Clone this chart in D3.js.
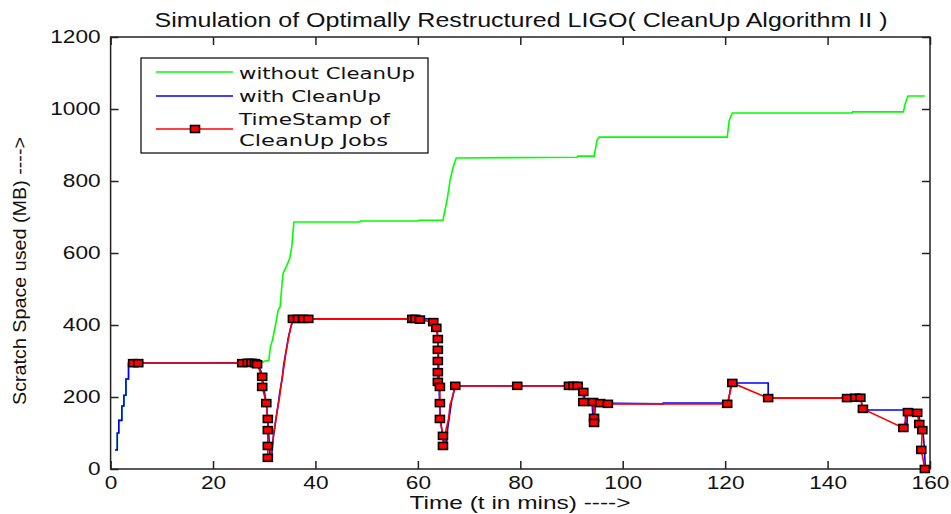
<!DOCTYPE html>
<html>
<head>
<meta charset="utf-8">
<script src="https://cdn.jsdelivr.net/npm/d3@7"></script>
<style>
  html, body { margin: 0; padding: 0; background: #fff; }
  svg { display: block; }
</style>
</head>
<body>
<svg id="chart" width="951" height="514"></svg>
<script>
// ---------- DATA ----------
const title = "Simulation of Optimally Restructured LIGO( CleanUp Algorithm II )";
const xLabel = "Time (t in mins) ---->";
const yLabel = "Scratch Space used (MB) ---->";
const xTicks = [0, 20, 40, 60, 80, 100, 120, 140, 160];
const yTicks = [0, 200, 400, 600, 800, 1000, 1200];
const legendLabels = [["without CleanUp"], ["with CleanUp"], ["TimeStamp of", "CleanUp Jobs"]];

// without CleanUp (green) [time, MB]
const greenPts = [
  [0.9,53],[1.3,53],[1.3,100],[1.6,100],[1.6,135],[2.2,135],[2.2,175],[2.6,175],[2.6,205],[3.0,205],[3.0,250],[3.5,250],[3.5,294],
  [29.5,296],[30.2,300],[30.9,302],[31.2,339],[31.6,358],[32.2,400],[32.7,440],[33.1,450],[33.5,520],[33.7,544],[34.4,565],[35.0,586],
  [35.4,620],[35.6,656],[35.8,686],[48.7,686],[48.8,689],[60.1,689],[60.2,691],[64.9,691],[65.3,720],[65.7,747],[66.3,803],[66.9,839],
  [67.5,864],[91.1,866],[91.2,869],[94.4,869],[95.0,914],[95.4,922],[120.4,922],[120.8,969],[121.4,989],[144.8,989],[144.9,992],
  [154.8,992],[155.2,1017],[155.7,1036],[159.0,1036]
];
// with CleanUp (blue)
const bluePts = [
  [0.9,53],[1.3,53],[1.3,100],[1.6,100],[1.6,135],[2.2,135],[2.2,175],[2.6,175],[2.6,205],[3.0,205],[3.0,250],[3.5,250],[3.5,294],
  [27.5,294],[28.4,292],[28.9,285],[29.4,270],[29.6,256],[29.9,228],[30.2,200],[30.5,170],[30.7,130],[30.9,95],[31.0,60],[31.1,40],
  [31.5,40],[31.6,70],[31.9,100],[32.3,140],[32.7,175],[33.0,210],[33.5,250],[33.8,290],[34.3,330],[34.7,365],[35.2,395],[35.7,417],
  [62.5,417],[63.3,405],[63.8,385],[64.0,330],[64.1,260],[64.2,200],[64.4,140],[64.8,95],[65.2,70],[65.6,70],[65.8,110],[66.2,150],
  [66.6,190],[67.0,215],[67.6,231],[91.4,231],[92.0,222],[92.5,210],[92.6,186],[94.0,186],[94.2,140],[94.5,150],[94.7,183],
  [107.9,181],[107.9,183],[120.6,183],[121.2,239],[128.4,239],[128.4,197],[146.6,197],[146.7,164],[155.2,164],[155.2,114],
  [155.5,114],[155.6,160],[157.7,160],[158.1,125],[158.6,108],[158.9,60],[159.1,0]
];
// TimeStamp of CleanUp Jobs (red line)
const redPts = [
  [4.4,294],[5.4,294],[25.7,294],[26.8,295],[27.5,295],[28.2,294],[28.6,291],[29.6,256],[29.6,228],[30.4,183],[30.7,139],[30.7,108],
  [30.7,64],[30.7,31],[31.2,31],[31.4,60],[31.6,60],[31.8,95],[32.2,130],[32.6,170],[33.0,200],[33.3,235],[33.8,280],[34.2,320],
  [34.7,360],[35.2,395],[35.6,417],[36.6,417],[37.6,417],[38.6,417],[58.9,417],[60.4,415],[63.0,408],[63.6,392],[63.9,361],[63.9,331],
  [63.9,300],[63.9,269],[63.9,242],[64.3,228],[64.3,183],[64.3,139],[64.9,92],[64.9,64],[65.3,75],[65.5,110],[66.0,140],[66.3,180],
  [66.8,200],[67.3,231],[79.4,231],[89.5,231],[90.4,231],[91.2,231],[92.3,214],[92.3,186],[94.2,186],[94.4,142],[94.4,128],[94.6,183],
  [95.6,183],[97.1,181],[120.4,181],[121.4,239],[128.4,197],[143.8,197],[145.4,198],[146.4,198],[146.9,167],[154.8,114],[155.7,158],
  [157.5,156],[157.9,125],[158.5,108],[158.3,53],[159.0,0]
];
// marker positions on the red series
const markerPts = [
  [4.4,294],[5.4,294],[25.7,294],[26.8,295],[27.5,295],[28.2,294],[28.6,291],[29.6,256],[29.6,228],[30.4,183],[30.7,139],[30.7,108],
  [30.7,64],[30.7,31],[35.6,417],[36.6,417],[37.6,417],[38.6,417],[58.9,417],[59.5,417],[60.4,415],[63.0,408],[63.6,392],[63.9,361],
  [63.9,331],[63.9,300],[63.9,269],[63.9,242],[64.3,228],[64.3,183],[64.3,139],[64.9,92],[64.9,64],[67.3,231],[79.4,231],[89.5,231],
  [90.4,231],[91.2,231],[92.3,214],[92.3,186],[94.2,186],[95.6,183],[97.1,181],[94.4,142],[94.4,128],[120.4,181],[121.4,239],
  [128.4,197],[143.8,197],[145.4,198],[146.4,198],[146.9,167],[154.8,114],[155.7,158],[157.5,156],[157.9,125],[158.5,108],[158.3,53],[159.0,0]
];

// ---------- CHART ----------
const svg = d3.select("#chart");
const x = d3.scaleLinear().domain([0, 160]).range([110.6, 930]);
const y = d3.scaleLinear().domain([0, 1200]).range([469, 37]);
const axisColor = "#222";
const sans = "'Liberation Sans', Arial, sans-serif";

// plot box
svg.append("rect")
  .attr("x", x(0)).attr("y", y(1200))
  .attr("width", x(160) - x(0)).attr("height", y(0) - y(1200))
  .attr("fill", "#fff").attr("stroke", axisColor).attr("stroke-width", 1.5);

function styleAxis(g) {
  g.select(".domain").remove();
  g.selectAll(".tick line").attr("stroke", axisColor).attr("stroke-width", 1.5);
  g.selectAll(".tick text").attr("fill", "#111")
    .style("font-family", sans).style("font-size", "18.5px")
    .attr("textLength", function () { return this.textContent.length * 12.6; })
    .attr("lengthAdjust", "spacingAndGlyphs");
}
// bottom/left axes with inward ticks
svg.append("g").attr("transform", `translate(0,${y(0)})`)
  .call(d3.axisBottom(x).tickValues(xTicks).tickSize(-8).tickPadding(7).tickFormat(d3.format("d")))
  .call(styleAxis);
svg.append("g").attr("transform", `translate(${x(0)},0)`)
  .call(d3.axisLeft(y).tickValues(yTicks).tickSize(-8).tickPadding(10).tickFormat(d3.format("d")))
  .call(styleAxis);
// top/right mirrored ticks
svg.append("g").attr("transform", `translate(0,${y(1200)})`)
  .call(d3.axisTop(x).tickValues(xTicks).tickSize(-8).tickFormat(""))
  .call(styleAxis);
svg.append("g").attr("transform", `translate(${x(160)},0)`)
  .call(d3.axisRight(y).tickValues(yTicks).tickSize(-8).tickFormat(""))
  .call(styleAxis);

const line = d3.line().x(d => x(d[0])).y(d => y(d[1]));

svg.append("path").datum(greenPts).attr("d", line)
  .attr("fill", "none").attr("stroke", "#00ff00").attr("stroke-width", 1.6);
svg.append("path").datum(bluePts).attr("d", line)
  .attr("fill", "none").attr("stroke", "#0000ff").attr("stroke-width", 1.6);
svg.append("path").datum(redPts).attr("d", line)
  .attr("fill", "none").attr("stroke", "#ff0000").attr("stroke-width", 1.6);

const mw = 9, mh = 7;
svg.append("g").selectAll("rect").data(markerPts).join("rect")
  .attr("x", d => x(d[0]) - mw / 2).attr("y", d => y(d[1]) - mh / 2)
  .attr("width", mw).attr("height", mh)
  .attr("fill", "#ff0000").attr("stroke", "#000").attr("stroke-width", 1.6);

// title & axis labels
svg.append("text").attr("x", 521).attr("y", 27).attr("text-anchor", "middle")
  .attr("textLength", 733).attr("lengthAdjust", "spacingAndGlyphs")
  .style("font-family", sans).style("font-size", "19.5px").attr("fill", "#111")
  .text(title);
svg.append("text").attr("x", 520).attr("y", 509).attr("text-anchor", "middle")
  .attr("textLength", 221).attr("lengthAdjust", "spacingAndGlyphs")
  .style("font-family", sans).style("font-size", "19px").attr("fill", "#111")
  .text(xLabel);
svg.append("text").attr("transform", "translate(26,271) rotate(-90)").attr("text-anchor", "middle")
  .attr("textLength", 268).attr("lengthAdjust", "spacingAndGlyphs")
  .style("font-family", sans).style("font-size", "18px").attr("fill", "#111")
  .text(yLabel);

// legend
const lg = svg.append("g");
lg.append("rect").attr("x", 141).attr("y", 58).attr("width", 287).attr("height", 95)
  .attr("fill", "#fff").attr("stroke", "#000").attr("stroke-width", 1.2);
const legendColors = ["#00ff00", "#0000ff", "#ff0000"];
const legendLineY = [72, 96, 129];
const legendTextY = [[79], [102], [125, 146]];
const legendTextLen = [[176], [142], [151, 149]];
legendLabels.forEach((lines, i) => {
  lg.append("line").attr("x1", 156).attr("x2", 233).attr("y1", legendLineY[i]).attr("y2", legendLineY[i])
    .attr("stroke", legendColors[i]).attr("stroke-width", 1.6);
  lines.forEach((t, j) => {
    lg.append("text").attr("x", 239).attr("y", legendTextY[i][j])
      .attr("textLength", legendTextLen[i][j]).attr("lengthAdjust", "spacingAndGlyphs")
      .style("font-family", "'DejaVu Sans', Verdana, sans-serif").style("font-size", "15px").attr("fill", "#111")
      .text(t);
  });
});
lg.append("rect").attr("x", 195 - mw / 2).attr("y", 129 - mh / 2).attr("width", mw).attr("height", mh)
  .attr("fill", "#ff0000").attr("stroke", "#000").attr("stroke-width", 1.6);
</script>
</body>
</html>
